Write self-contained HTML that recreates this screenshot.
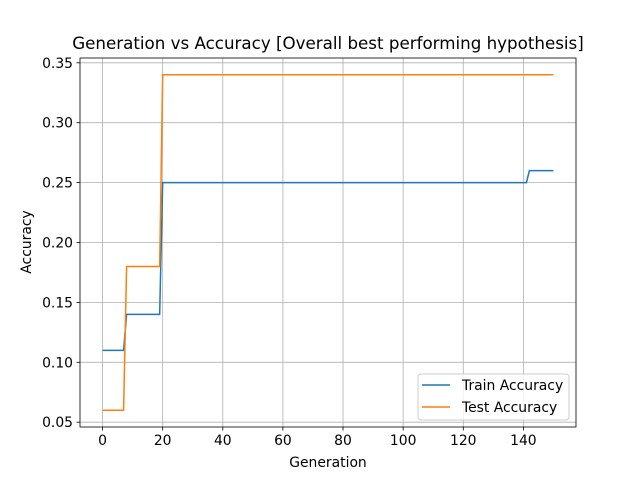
<!DOCTYPE html>
<html><head><meta charset="utf-8"><style>
body{margin:0;background:#fff;}
svg{display:block;font-family:"DejaVu Sans","Liberation Sans",sans-serif;}
</style></head><body>
<svg id="chart" width="640" height="480">
<rect width="640" height="480" fill="#fff"/>
<text x="328" y="49" font-size="16.7" text-anchor="middle">Generation vs Accuracy [Overall best performing hypothesis]</text>
<g id="grid"></g>
<g id="xticks"></g>
<g id="yticks"></g>
<g id="series"></g>
<rect x="80" y="58" width="496" height="369" fill="none" stroke="#000" stroke-width="0.8"/>
<text x="328" y="467" font-size="13.9" text-anchor="middle">Generation</text>
<text transform="translate(31,242) rotate(-90)" font-size="13.9" text-anchor="middle">Accuracy</text>
<g>
<rect x="418" y="374" width="151" height="46" rx="3" fill="#fff" fill-opacity="0.8" stroke="#ccc"/>
<g>
<line x1="422" y1="385" x2="450" y2="385" stroke="#1f77b4" stroke-width="1.5"/>
<text x="462" y="390" font-size="13.9">Train Accuracy</text></g>
<g>
<line x1="422" y1="407" x2="450" y2="407" stroke="#ff7f0e" stroke-width="1.5"/>
<text x="462" y="412" font-size="13.9">Test Accuracy</text></g>
</g>
</svg>
<script>
const gens=[0,7,8,19,20,141,142,150];
const trainAcc=[0.11,0.11,0.14,0.14,0.25,0.25,0.26,0.26];
const testAcc=[0.06,0.06,0.18,0.18,0.34,0.34,0.34,0.34];
const xTicks=[0,20,40,60,80,100,120,140];
const yTicks=[0.05,0.10,0.15,0.20,0.25,0.30,0.35];
const L=80,R=576,T=58,B=427,xmin=-7.5,xmax=157.5,ymin=0.046,ymax=0.354;
const sx=v=>L+(v-xmin)/(xmax-xmin)*(R-L);
const sy=v=>B-(v-ymin)/(ymax-ymin)*(B-T);
const NS="http://www.w3.org/2000/svg";
const mk=(t,a,p)=>{const e=document.createElementNS(NS,t);for(const k in a)e.setAttribute(k,a[k]);p.appendChild(e);return e;};
const grid=document.getElementById('grid'),xt=document.getElementById('xticks'),yt=document.getElementById('yticks'),ser=document.getElementById('series');
xTicks.forEach(v=>{const x=sx(v);
const g=mk('line',{x1:x,x2:x,y1:T,y2:B,stroke:'#b0b0b0','stroke-width':0.8},grid);


mk('line',{x1:x,x2:x,y1:B,y2:B+3.5,stroke:'#000','stroke-width':0.8},xt);
const t=mk('text',{x:x,y:B+18,'font-size':13.9,'text-anchor':'middle'},xt);t.textContent=v;

});
yTicks.forEach(v=>{const y=sy(v);
const g=mk('line',{x1:L,x2:R,y1:y,y2:y,stroke:'#b0b0b0','stroke-width':0.8},grid);


mk('line',{x1:L-3.5,x2:L,y1:y,y2:y,stroke:'#000','stroke-width':0.8},yt);
const t=mk('text',{x:L-7,y:y+5,'font-size':13.9,'text-anchor':'end'},yt);t.textContent=v.toFixed(2);

});
function line(vals,color,name){const p=mk('polyline',{points:gens.map((g,i)=>sx(g)+','+sy(vals[i])).join(' '),fill:'none',stroke:color,'stroke-width':1.5},ser);

}
line(trainAcc,'#1f77b4','train-accuracy-line');
line(testAcc,'#ff7f0e','test-accuracy-line');
</script>
</body></html>
